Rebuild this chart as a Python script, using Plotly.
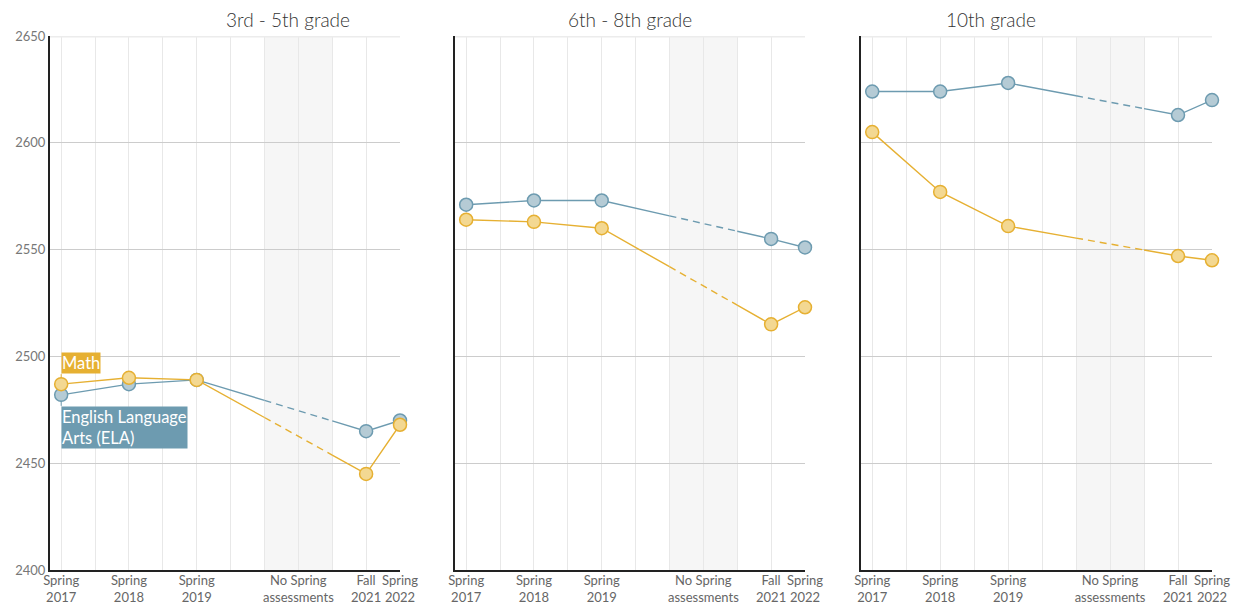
import numpy as np
import plotly.graph_objects as go

# ---- data ----
periods = ["Spring<br>2017", "Spring<br>2018", "Spring<br>2019", "Fall<br>2021", "Spring<br>2022"]
gap_label = "No Spring<br>assessments"
panels = ["3rd - 5th grade", "6th - 8th grade", "10th grade"]

math_35 = [2487, 2490, 2489, 2445, 2468]
ela_35 = [2482, 2487, 2489, 2465, 2470]
math_68 = [2564, 2563, 2560, 2515, 2523]
ela_68 = [2571, 2573, 2573, 2555, 2551]
math_10 = [2605, 2577, 2561, 2547, 2545]
ela_10 = [2624, 2624, 2628, 2613, 2620]

math_series = [math_35, math_68, math_10]
ela_series = [ela_35, ela_68, ela_10]

# ---- layout helpers (positions / styles) ----
xpos = [0, 2, 4, 9, 10]
gap_pos = 7
gap_span = (6, 8)

MATH_LINE = "#e6b032"
MATH_FILL = "#f3d892"
ELA_LINE = "#6d9bb0"
ELA_FILL = "#b5cbd5"
FONT = "Lato"

OFF = 8  # page body margin
W, H = 1244 - OFF, 605 - OFF
ML, MT = 50 - OFF, 36 - OFF
plot_right = 1212 - OFF
plot_bottom = 570 - OFF
MR, MB = W - plot_right, H - plot_bottom
pw = W - ML - MR
px_domains = [(50, 400), (455, 805), (861, 1212)]
domains = [((a - OFF - ML) / pw, (b - OFF - ML) / pw) for a, b in px_domains]

fig = go.Figure()


def add_series(i, vals, line_col, fill_col, name):
    xa = "x" if i == 0 else f"x{i+1}"
    ya = "y" if i == 0 else f"y{i+1}"
    y6 = float(np.interp(gap_span[0], xpos, vals))
    y8 = float(np.interp(gap_span[1], xpos, vals))
    segs = [
        (xpos[:3] + [gap_span[0]], vals[:3] + [y6], "solid"),
        ([gap_span[0], gap_span[1]], [y6, y8], "7px,5px"),
        ([gap_span[1]] + xpos[3:], [y8] + vals[3:], "solid"),
    ]
    for sx, sy, d in segs:
        fig.add_trace(go.Scatter(x=sx, y=sy, mode="lines", xaxis=xa, yaxis=ya,
                                 line=dict(color=line_col, width=1.4, dash=d),
                                 hoverinfo="skip", showlegend=False, cliponaxis=False))
    fig.add_trace(go.Scatter(x=xpos, y=vals, mode="markers", xaxis=xa, yaxis=ya, name=name,
                             marker=dict(size=13, color=fill_col, line=dict(color=line_col, width=1.5)),
                             showlegend=False, cliponaxis=False))


for i in range(3):
    add_series(i, ela_series[i], ELA_LINE, ELA_FILL, "ELA")
    add_series(i, math_series[i], MATH_LINE, MATH_FILL, "Math")

layout = dict(
    width=W, height=H,
    margin=dict(l=ML, r=MR, t=MT, b=MB, autoexpand=False),
    plot_bgcolor="white", paper_bgcolor="white",
    font=dict(family=FONT, color="#666", size=13),
    showlegend=False,
)

shapes = []
annotations = []
for i in range(3):
    sfx = "" if i == 0 else str(i + 1)
    layout[f"xaxis{sfx}"] = dict(
        domain=list(domains[i]), range=[-0.33, 10], anchor=f"y{sfx}",
        tickvals=xpos[:3] + [gap_pos] + xpos[3:],
        ticktext=periods[:3] + [gap_label] + periods[3:],
        tickangle=0, automargin=False, ticklabelstandoff=-3,
        showgrid=True, gridcolor="#e8e8e8", gridwidth=1,
        minor=dict(dtick=1, tick0=0, showgrid=True, gridcolor="#e8e8e8", gridwidth=1),
        showline=True, linecolor="#222", linewidth=2,
        ticks="", zeroline=False, fixedrange=True,
        tickfont=dict(family=FONT, size=13, color="#666"),
    )
    layout[f"yaxis{sfx}"] = dict(
        domain=[0, 1], range=[2400, 2650], dtick=50, anchor=f"x{sfx}",
        automargin=False,
        showgrid=True, gridcolor="#cccccc", gridwidth=1,
        showline=True, linecolor="#222", linewidth=2,
        showticklabels=(i == 0), ticks="", zeroline=False, fixedrange=True,
        tickfont=dict(family=FONT, size=13, color="#777"),
    )
    xr = "x" + sfx
    yr = "y" + sfx
    shapes.append(dict(type="rect", xref=xr, yref="paper", x0=gap_span[0], x1=gap_span[1],
                       y0=0, y1=1, fillcolor="#f6f6f6", line=dict(width=0), layer="below"))
    shapes.append(dict(type="line", xref="paper", yref=yr, x0=domains[i][0], x1=domains[i][1],
                       y0=2650, y1=2650, line=dict(color="#ececec", width=3), layer="above"))
    annotations.append(dict(text=panels[i], xref="paper", yref="paper",
                            x=(domains[i][0] + domains[i][1]) / 2, y=1, yanchor="middle",
                            yshift=17, showarrow=False, borderpad=0,
                            font=dict(family=FONT, size=19, color="#333", weight=300)))

# series labels
annotations.append(dict(text="Math", x=xpos[0], y=math_35[0], xref="x", yref="y",
                        showarrow=True, arrowhead=0, arrowwidth=1, arrowcolor=MATH_LINE,
                        ax=0, ay=-10, xanchor="left", yanchor="bottom", standoff=6,
                        bgcolor=MATH_LINE, borderpad=0, align="left",
                        font=dict(family=FONT, size=16.5, color="white")))
annotations.append(dict(text="English Language<br>Arts (ELA)", x=xpos[0], y=ela_35[0], xref="x", yref="y",
                        showarrow=True, arrowhead=0, arrowwidth=1, arrowcolor=ELA_LINE,
                        ax=0, ay=11, xanchor="left", yanchor="top", standoff=6,
                        bgcolor=ELA_LINE, borderpad=0, align="left",
                        font=dict(family=FONT, size=16.5, color="white")))

layout["shapes"] = shapes
layout["annotations"] = annotations
fig.update_layout(**layout)
fig.write_html("out.html")
